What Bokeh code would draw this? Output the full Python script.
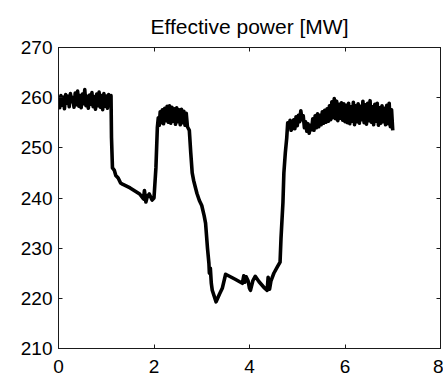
from bokeh.plotting import figure
from bokeh.models import LinearAxis, FixedTicker, Range1d
from bokeh.embed import file_html
from bokeh.resources import INLINE

# ---- data ----
time_seg1 = [0.000, 0.025, 0.050, 0.075, 0.100, 0.125, 0.150, 0.175, 0.200, 0.225,
             0.250, 0.275, 0.300, 0.325, 0.350, 0.375, 0.400, 0.425, 0.450, 0.475,
             0.500, 0.525, 0.550, 0.575, 0.600, 0.625, 0.650, 0.675, 0.700, 0.725,
             0.750, 0.775, 0.800, 0.825, 0.850, 0.875, 0.900, 0.925, 0.950, 0.975,
             1.000, 1.025, 1.050, 1.075, 1.100]
power_seg1 = [259.6, 258.0, 260.4, 258.5, 260.1, 257.8, 260.6, 258.9, 260.3, 258.2,
              260.8, 259.2, 260.0, 258.1, 260.9, 258.6, 261.3, 258.3, 260.4, 258.0,
              260.7, 258.8, 261.6, 258.4, 260.3, 257.9, 260.5, 258.7, 261.0, 258.2,
              260.2, 257.7, 260.7, 258.4, 261.1, 258.1, 260.4, 257.6, 260.8, 258.3,
              260.3, 257.9, 260.6, 258.5, 260.4]

time_drop1 = [1.11, 1.13, 1.17, 1.20, 1.25, 1.30, 1.35, 1.50, 1.70, 1.78, 1.80, 1.83,
              1.86, 1.90, 1.96, 2.00, 2.04, 2.07, 2.09, 2.11, 2.13]
power_drop1 = [252.0, 246.0, 245.5, 244.5, 244.0, 243.0, 242.7, 242.0, 240.8, 239.8,
               241.5, 239.2, 240.3, 240.8, 239.6, 240.0, 246.0, 254.0, 256.0, 254.5, 257.2]

time_seg2 = [2.150, 2.175, 2.200, 2.225, 2.250, 2.275, 2.300, 2.325, 2.350, 2.375,
             2.400, 2.425, 2.450, 2.475, 2.500, 2.525, 2.550, 2.575, 2.600, 2.625,
             2.650, 2.675, 2.700]
power_seg2 = [255.0, 257.6, 254.8, 257.9, 255.4, 258.3, 255.1, 258.4, 254.9, 258.1,
              255.3, 257.8, 254.7, 258.0, 255.2, 257.6, 254.6, 257.7, 255.0, 257.3,
              254.5, 256.9, 254.2]

time_drop2 = [2.74, 2.77, 2.80, 2.83, 2.87, 2.90, 2.95, 3.00, 3.05, 3.08,
              3.12, 3.15, 3.16, 3.18, 3.20, 3.22, 3.30, 3.37, 3.43, 3.50,
              3.70, 3.85, 3.88, 3.90, 3.93, 3.97, 4.00, 4.02, 4.07, 4.12,
              4.20, 4.30, 4.37, 4.39, 4.42, 4.45, 4.51, 4.58, 4.64, 4.66,
              4.70, 4.72, 4.75, 4.78, 4.80, 4.83, 4.85, 4.87]
power_drop2 = [253.5, 249.0, 245.0, 243.5, 242.0, 240.9, 239.5, 238.5, 236.5, 235.0,
               230.0, 227.0, 225.0, 226.0, 223.0, 221.6, 219.3, 220.8, 222.0, 224.8,
               223.8, 223.0, 224.5, 223.2, 224.3, 223.5, 222.0, 221.6, 223.5, 224.4,
               223.3, 222.2, 221.6, 224.2, 221.8, 223.5, 225.0, 226.2, 227.2, 232.0,
               239.0, 245.0, 249.0, 252.0, 255.0, 254.2, 255.5, 253.5]

time_seg3 = [4.900, 4.925, 4.950, 4.975, 5.000, 5.025, 5.050, 5.075, 5.100, 5.125,
             5.150, 5.175, 5.200, 5.225, 5.250, 5.275, 5.300, 5.325, 5.350, 5.375,
             5.400, 5.425, 5.450, 5.475, 5.500, 5.525, 5.550, 5.575, 5.600, 5.625,
             5.650, 5.675, 5.700, 5.725, 5.750, 5.775, 5.800, 5.825, 5.850, 5.875,
             5.900, 5.925, 5.950, 5.975, 6.000, 6.025, 6.050, 6.075, 6.100, 6.125,
             6.150, 6.175, 6.200, 6.225, 6.250, 6.275, 6.300, 6.325, 6.350, 6.375,
             6.400, 6.425, 6.450, 6.475, 6.500, 6.525, 6.550, 6.575, 6.600, 6.625,
             6.650, 6.675, 6.700, 6.725, 6.750, 6.775, 6.800, 6.825, 6.850, 6.875,
             6.900, 6.925, 6.950, 6.975, 7.000]
power_seg3 = [254.0, 255.6, 253.8, 256.2, 254.4,
              256.5, 255.2, 257.4, 255.6,
              256.4, 254.0, 255.2, 253.3, 254.8, 252.9, 254.5, 253.6,
              255.8, 253.5, 256.4, 254.0, 256.8, 254.2, 256.5, 254.6, 257.2, 254.9, 257.5, 255.1,
              257.8, 255.3, 258.4, 255.6, 259.2, 256.0, 259.8, 255.8, 259.3, 255.4, 258.7, 255.9,
              259.0, 255.5, 258.8, 255.2,
              258.5, 255.0, 258.9, 254.8, 258.2, 255.3, 259.1, 254.6, 258.4, 255.2,
              258.8, 254.9, 258.3, 255.6, 259.3, 255.0, 258.6, 254.7, 258.9, 255.4,
              259.4, 255.1, 258.2, 254.6, 258.7, 255.3, 258.9, 254.5, 258.0, 254.9,
              258.4, 255.2, 257.9, 254.6, 258.5, 254.8, 258.9, 254.2, 257.6, 253.5]

x_ticks = [0, 2, 4, 6, 8]
y_ticks = [210, 220, 230, 240, 250, 260, 270]
title_text = "Effective power [MW]"

time_h = time_seg1 + time_drop1 + time_seg2 + time_drop2 + time_seg3
power_mw = power_seg1 + power_drop1 + power_seg2 + power_drop2 + power_seg3
assert len(time_h) == len(power_mw)

FONT = "Liberation Sans"

p = figure(width=443, height=376, output_backend="svg", toolbar_location=None,
           x_range=Range1d(0, 8), y_range=Range1d(210, 270),
           x_axis_location=None, y_axis_location=None,
           min_border_left=58, min_border_right=3, min_border_top=47,
           min_border_bottom=28)
p.frame_width = 382
p.frame_height = 301
p.background_fill_color = "white"
p.border_fill_color = "white"
p.grid.visible = False
p.outline_line_color = "#1a1a1a"
p.outline_line_width = 1

p.title.text = title_text
p.title.align = "center"
p.title.vertical_align = "top"
p.title.text_font = FONT
p.title.text_font_size = "21px"
p.title.text_font_style = "normal"
p.title.text_color = "black"
p.title.text_line_height = 1.0
p.title.standoff = 16


def make_axis(ticks, labels=True):
    ax = LinearAxis(ticker=FixedTicker(ticks=ticks))
    ax.major_tick_in = 4
    ax.major_tick_out = 0
    ax.minor_tick_line_color = None
    ax.axis_line_color = "#1a1a1a"
    ax.major_tick_line_color = "#1a1a1a"
    ax.major_label_text_font = FONT
    ax.major_label_text_color = "black"
    if labels:
        ax.major_label_text_font_size = "19px"
        ax.major_label_standoff = 6
    else:
        ax.major_label_overrides = {t: "" for t in ticks}
        ax.major_label_text_font_size = "1px"
        ax.major_label_standoff = 0
    return ax


xb = make_axis(x_ticks)
xb.major_label_standoff = 11
p.add_layout(xb, "below")
p.add_layout(make_axis(y_ticks), "left")
p.add_layout(make_axis(x_ticks, labels=False), "above")
p.add_layout(make_axis(y_ticks, labels=False), "right")

p.line(time_h, power_mw, line_color="black", line_width=3.6, line_join="round")

open("out.html", "w").write(file_html(p, INLINE))
